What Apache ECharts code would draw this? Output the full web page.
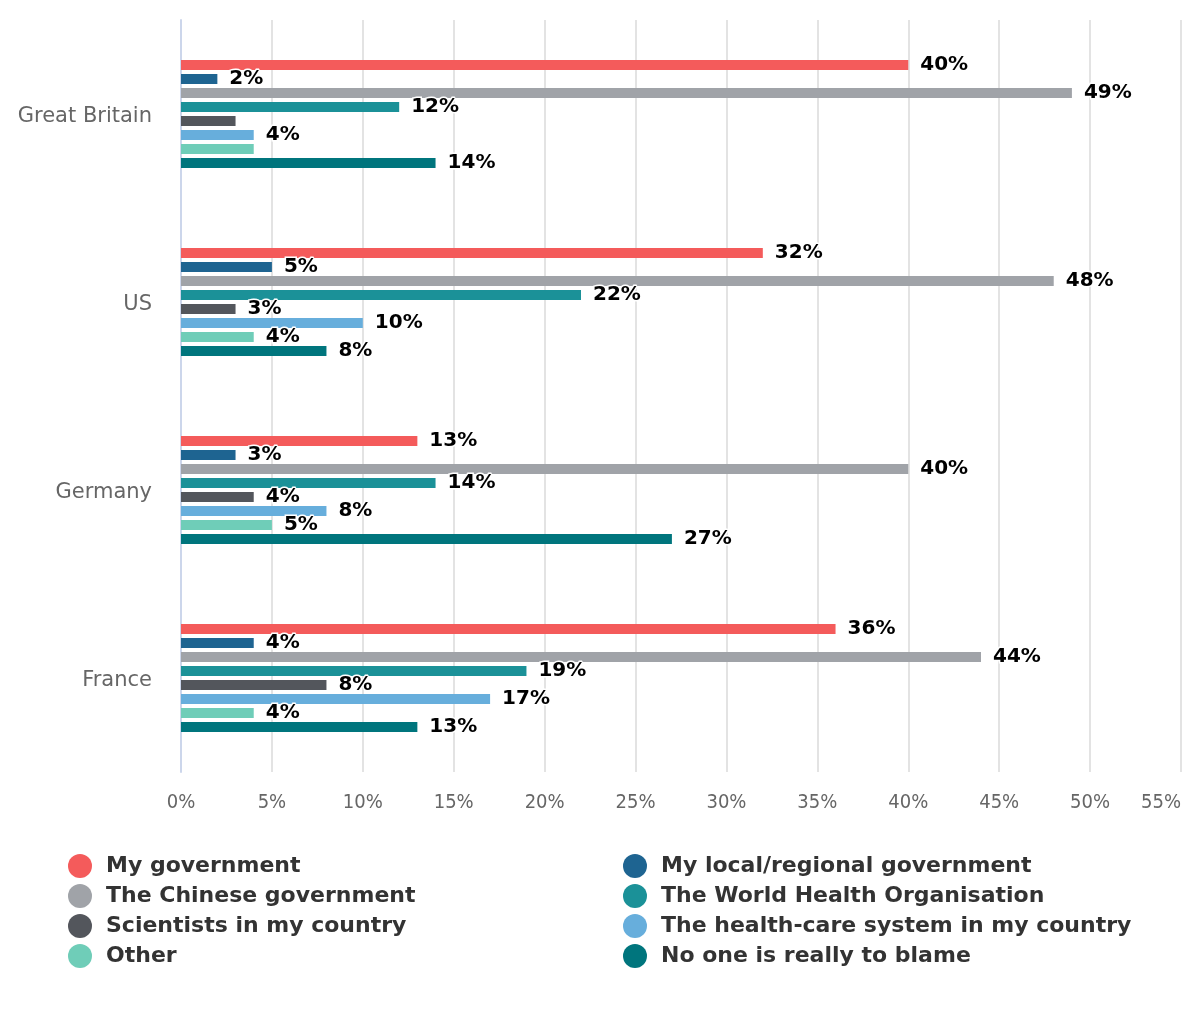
<!DOCTYPE html>
<html><head><meta charset="utf-8">
<script src="https://cdn.jsdelivr.net/npm/echarts@6/dist/echarts.min.js"></script>
<style>html,body{margin:0;padding:0;background:#fff}#c{width:1200px;height:1010px}</style>
</head><body><div id="c"></div>
<script>
const categories = ['Great Britain', 'US', 'Germany', 'France'];
const seriesNames = ['My government', 'My local/regional government', 'The Chinese government', 'The World Health Organisation', 'Scientists in my country', 'The health-care system in my country', 'Other', 'No one is really to blame'];
const colors = ['#f45b5b', '#1e6491', '#a0a3a8', '#1b9198', '#53565c', '#67aedc', '#6fcdb8', '#00757d'];
const myGovernment = [40, 32, 13, 36];
const localGovernment = [2, 5, 3, 4];
const chineseGovernment = [49, 48, 40, 44];
const who = [12, 22, 14, 19];
const scientists = [3, 3, 4, 8];
const healthCare = [4, 10, 8, 17];
const other = [4, 4, 5, 4];
const noOne = [14, 8, 27, 13];
const tickLabels = ['0%','5%','10%','15%','20%','25%','30%','35%','40%','45%','50%','55%'];
// labels hidden in the reference (overlapping): [seriesIndex, categoryIndex]
const hiddenLabels = [[4, 0], [6, 0]];

const allValues = [myGovernment, localGovernment, chineseGovernment, who, scientists, healthCare, other, noOne];

const chart = echarts.init(document.getElementById('c'));
const series = allValues.map((vals, si) => ({
  name: seriesNames[si],
  type: 'bar',
  barWidth: 10,
  barGap: '40%',
  itemStyle: { color: colors[si] },
  data: vals.map((v, ci) => {
    const hide = hiddenLabels.some(h => h[0] === si && h[1] === ci);
    return hide ? { value: v, label: { show: false } } : v;
  }),
  label: {
    show: true, position: 'right', distance: 12,
    formatter: p => p.value + '%',
    color: '#000', fontWeight: 'bold', fontSize: 20,
    fontFamily: 'DejaVu Sans',
    textBorderColor: '#fff', textBorderWidth: 3
  }
}));

const legendText = { color: '#333', fontSize: 22, fontWeight: 'bold', fontFamily: 'DejaVu Sans', padding: [0, 0, 0, 9] };
chart.setOption({
  animation: false,
  grid: { left: 181, right: 19, top: 20, bottom: 238, containLabel: false },
  legend: [
    { orient: 'vertical', left: 63, top: 849, itemGap: 6, itemWidth: 24, itemHeight: 24, icon: 'circle',
      data: [seriesNames[0], seriesNames[2], seriesNames[4], seriesNames[6]], textStyle: legendText },
    { orient: 'vertical', left: 618, top: 849, itemGap: 6, itemWidth: 24, itemHeight: 24, icon: 'circle',
      data: [seriesNames[1], seriesNames[3], seriesNames[5], seriesNames[7]], textStyle: legendText }
  ],
  xAxis: {
    type: 'value', min: 0, max: 55, interval: 5,
    axisLine: { show: false }, axisTick: { show: false },
    splitLine: { show: true, lineStyle: { color: '#e3e3e3', width: 2 } },
    axisLabel: {
      margin: 21, color: '#666', fontSize: 20, fontFamily: 'DejaVu Sans Condensed',
      alignMaxLabel: 'right',
      formatter: v => tickLabels[Math.round(v / 5)]
    }
  },
  yAxis: {
    type: 'category', data: categories, inverse: true,
    axisLine: { show: true, lineStyle: { color: '#ccd6eb', width: 2 } },
    axisTick: { show: false },
    axisLabel: { margin: 29, color: '#666', fontSize: 21, fontFamily: 'DejaVu Sans', verticalAlign: 'top', lineHeight: 6 }
  },
  series
});
</script></body></html>
